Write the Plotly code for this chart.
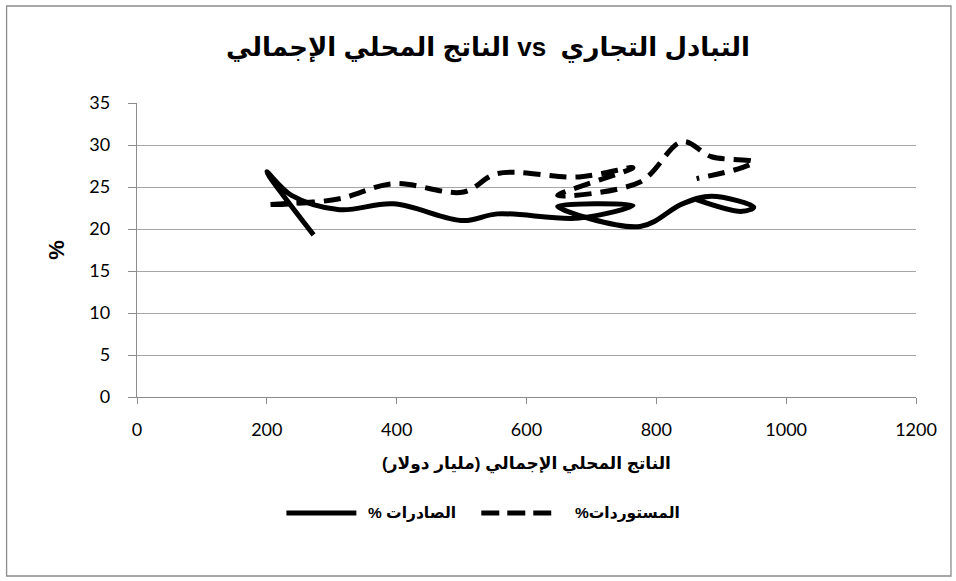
import plotly.graph_objects as go

# GDP (billion USD) and trade shares (% of GDP), 2000-2015
years = list(range(2000, 2016))
gdp = [272, 200, 238, 312, 395, 503, 555, 681, 764, 648, 775, 840, 885, 950, 932, 862]
exports_pct = [19.3, 26.8, 24.0, 22.3, 23.0, 21.0, 21.8, 21.3, 22.8, 22.7, 20.3, 23.0, 23.9, 22.6, 22.1, 23.5]
imports_pct = [23.2, 22.9, 23.0, 23.6, 25.4, 24.4, 26.6, 26.2, 27.3, 24.0, 25.6, 30.4, 28.6, 28.0, 27.3, 26.0]

x_ticks = [0, 200, 400, 600, 800, 1000, 1200]
y_ticks = [0, 5, 10, 15, 20, 25, 30, 35]

RLE, PDF = "\u202b", "\u202c"
title_text = "التبادل التجاري  vs الناتج المحلي الإجمالي"
xaxis_text = "الناتج المحلي الإجمالي (مليار دولار)"
exports_name = "الصادرات %"
imports_name = "المستوردات%"

AR_FONT = "Arial, DejaVu Sans, sans-serif"
TICK_FONT = "Lato, Carlito, Calibri, sans-serif"
GRID = "#a6a6a6"
AXIS = "#8c8c8c"
DASH = "17px,9px"

# plot-area geometry in pixels
W, H = 956, 581
L, R, T, B = 136.5, 40, 103, 184
pw, ph = W - L - R, H - T - B


def px_x(p):
    return (p - L) / pw


def px_y(p):
    return (H - B - p) / ph


fig = go.Figure()
fig.add_trace(go.Scatter(
    x=gdp, y=exports_pct, mode="lines", name=exports_name,
    line=dict(color="black", width=5, shape="spline", smoothing=1.0),
    showlegend=False,
))
fig.add_trace(go.Scatter(
    x=gdp, y=imports_pct, mode="lines", name=imports_name,
    line=dict(color="black", width=5, shape="spline", smoothing=1.0, dash=DASH),
    showlegend=False,
))

LEG_Y = 513
shapes = [
    # outer chart border
    dict(type="rect", xref="paper", yref="paper",
         x0=px_x(6), x1=px_x(951), y0=px_y(576), y1=px_y(6),
         line=dict(color="#8c8c8c", width=1.3), layer="below"),
    # legend keys
    dict(type="line", xref="paper", yref="paper",
         x0=px_x(286), x1=px_x(356), y0=px_y(LEG_Y), y1=px_y(LEG_Y),
         line=dict(color="black", width=5)),
    dict(type="line", xref="paper", yref="paper",
         x0=px_x(481), x1=px_x(551), y0=px_y(LEG_Y), y1=px_y(LEG_Y),
         line=dict(color="black", width=5, dash="18px,8px")),
]

legend_font = dict(family=AR_FONT, size=15.5, color="black", weight="bold")
annotations = [
    dict(text=RLE + exports_name + PDF, xref="paper", yref="paper",
         x=px_x(458), y=px_y(LEG_Y), xanchor="right", yanchor="middle",
         showarrow=False, font=legend_font),
    dict(text=RLE + imports_name + PDF, xref="paper", yref="paper",
         x=px_x(682), y=px_y(LEG_Y), xanchor="right", yanchor="middle",
         showarrow=False, font=legend_font),
]

fig.update_layout(
    width=W, height=H,
    margin=dict(l=L, r=R, t=T, b=B, pad=0),
    paper_bgcolor="white", plot_bgcolor="white",
    title=dict(text=RLE + title_text + PDF, xref="container", x=488 / W, xanchor="center",
               yref="container", y=1 - 47 / H, yanchor="middle",
               font=dict(family=AR_FONT, size=26, color="black", weight="bold")),
    shapes=shapes, annotations=annotations,
    showlegend=False,
)

fig.update_xaxes(
    range=[0, 1200], tickvals=x_ticks, ticktext=[str(v) for v in x_ticks],
    showgrid=False, zeroline=False,
    showline=True, linecolor=AXIS, linewidth=1.3,
    ticks="outside", ticklen=6, tickcolor=AXIS, tickwidth=1.3,
    ticklabelstandoff=10,
    tickfont=dict(family=TICK_FONT, size=18, color="black"),
    title=dict(text=RLE + xaxis_text + PDF, standoff=18,
               font=dict(family=AR_FONT, size=17, color="black", weight="bold")),
)
fig.update_yaxes(
    range=[0, 35], tickvals=y_ticks, ticktext=[str(v) for v in y_ticks],
    showgrid=True, gridcolor=GRID, gridwidth=1.3, zeroline=False,
    showline=True, linecolor=AXIS, linewidth=1.3,
    ticks="outside", ticklen=8, tickcolor=AXIS, tickwidth=1.3,
    ticklabelstandoff=14,
    tickfont=dict(family=TICK_FONT, size=18, color="black"),
    title=dict(text="%", standoff=18,
               font=dict(family=AR_FONT, size=22, color="black", weight="bold")),
)

fig.write_html("out.html")
